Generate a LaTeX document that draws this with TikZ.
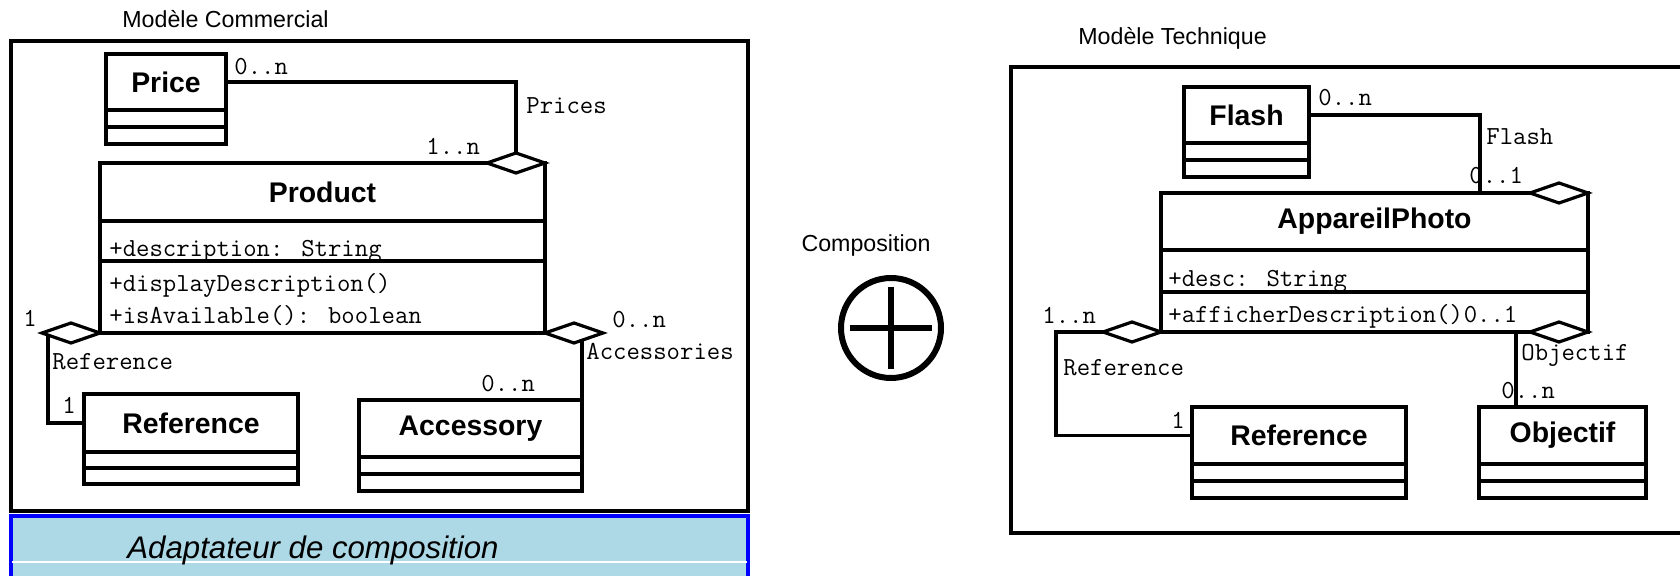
\documentclass[tikz,border=0pt]{standalone}
\usepackage{fontspec}
\setmainfont{Liberation Sans}
\usetikzlibrary{positioning,shapes.geometric}
\definecolor{Ink}{HTML}{000000}
\definecolor{AdaptFill}{HTML}{ADD8E6}
\definecolor{AdaptLine}{HTML}{0000FF}
\pgfdeclarelayer{links}
\pgfsetlayers{links,main}
\tikzset{
  classname/.style={
    draw=Ink, line width=1.6pt, inner sep=0pt, outer sep=0pt,
    font=\fontsize{14.2}{16}\selectfont\bfseries
  },
  classpart/.style={draw=Ink, line width=1.6pt, inner sep=0pt, outer sep=0pt},
  member/.style={anchor=base west, inner sep=0pt, font=\ttfamily\fontsize{13}{15}\selectfont},
  aggr/.style={
    diamond, draw=Ink, fill=white, line width=1.6pt, inner sep=0pt, outer sep=0pt,
    minimum width=29pt, minimum height=10pt
  },
  assoc/.style={draw=Ink, line width=1.6pt},
  package/.style={draw=Ink, line width=1.6pt},
  title/.style={anchor=base west, inner sep=0pt, font=\fontsize{11.6}{13}\selectfont}
}

\begin{document}
\begin{tikzpicture}[x=0.5pt,y=-0.5pt]
  \useasboundingbox (0,0) rectangle (1680,576);

  % commercial model
  \node[title] (commTitle) at (122,28) {Modèle Commercial};
  \draw[package] (11,41) rectangle (748,511);
  \fill[AdaptFill] (11,516) rectangle (748,590);
  \draw[AdaptLine, line width=1.8pt] (11,590) -- (11,516) -- (748,516) -- (748,590);
  \draw[white, line width=0.6pt] (12,562) -- (747,562);
  \node[title, font=\fontsize{15.6}{18}\selectfont\itshape] (adaptText) at (127,559) {Adaptateur de composition};

  \node[classname, minimum width=60pt, minimum height=28pt] (price) at (166,82) {Price};
  \node[classpart, minimum width=60pt, minimum height=8.5pt, below=0pt of price] (price-a) {};
  \node[classpart, minimum width=60pt, minimum height=8.5pt, below=0pt of price-a] (price-o) {};

  \node[classname, minimum width=222.5pt, minimum height=29pt] (prod) at (322.5,192) {Product};
  \node[classpart, minimum width=222.5pt, minimum height=20pt, below=0pt of prod] (prod-a) {};
  \node[classpart, minimum width=222.5pt, minimum height=36pt, below=0pt of prod-a] (prod-o) {};

  \node[classname, minimum width=107pt, minimum height=29pt] (refL) at (191,423) {Reference};
  \node[classpart, minimum width=107pt, minimum height=8pt, below=0pt of refL] (refL-a) {};
  \node[classpart, minimum width=107pt, minimum height=8pt, below=0pt of refL-a] (refL-o) {};

  \node[classname, minimum width=111.5pt, minimum height=28.5pt] (acc) at (470.5,428.5) {Accessory};
  \node[classpart, minimum width=111.5pt, minimum height=8.5pt, below=0pt of acc] (acc-a) {};
  \node[classpart, minimum width=111.5pt, minimum height=8.5pt, below=0pt of acc-a] (acc-o) {};

  \node[aggr, left=0pt of prod.north east] (dPrices) {};
  \node[aggr, left=0pt of prod-o.south west] (dRefL) {};
  \node[aggr, right=0pt of prod-o.south east] (dAcc) {};

  \begin{pgfonlayer}{links}
    \node[member] (descAttr) at (109,257) {+description: String};
    \node[member] (dispOp) at (109,292) {+displayDescription()};
    \node[member] (availOp) at (109,324) {+isAvailable(): boolean};
    \draw[assoc] (price.east) -| (dPrices.north);
    \draw[assoc] ([xshift=3pt]dRefL.west) |- (refL.west);
    \draw[assoc] (acc.north east) -- (acc.north east |- dAcc.center);
  \end{pgfonlayer}

  \node[member] (mPrice) at (234,75) {0..n};
  \node[member] (lPrices) at (526,114) {Prices};
  \node[member] (mProd) at (426,155) {1..n};
  \node[member] (mProdRef) at (23,327) {1};
  \node[member] (lRefL) at (52,370) {Reference};
  \node[member] (mRefL) at (62,414) {1};
  \node[member] (mProdAcc) at (612,328) {0..n};
  \node[member] (lAcc) at (586,360) {Accessories};
  \node[member] (mAcc) at (481,392) {0..n};

  % composition
  \node[title, anchor=base] (compTitle) at (866,252) {Composition};
  \node[circle, draw=Ink, line width=3pt, minimum size=50pt, inner sep=0pt] (oplus) at (891,328) {};
  \draw[line width=2.6pt] (oplus.center) ++(-41,0) -- ++(82,0);
  \draw[line width=2.6pt] (oplus.center) ++(0,-41) -- ++(0,82);

  % technical model
  \node[title] (techTitle) at (1078,45) {Modèle Technique};
  \draw[package] (1700,67) -- (1011,67) -- (1011,533) -- (1700,533);

  \node[classname, minimum width=62.5pt, minimum height=28pt] (flash) at (1246.5,115) {Flash};
  \node[classpart, minimum width=62.5pt, minimum height=8.5pt, below=0pt of flash] (flash-a) {};
  \node[classpart, minimum width=62.5pt, minimum height=8.5pt, below=0pt of flash-a] (flash-o) {};

  \node[classname, minimum width=213.5pt, minimum height=28.5pt] (ap) at (1374.5,221.5) {AppareilPhoto};
  \node[classpart, minimum width=213.5pt, minimum height=21pt, below=0pt of ap] (ap-a) {};
  \node[classpart, minimum width=213.5pt, minimum height=20pt, below=0pt of ap-a] (ap-o) {};

  \node[classname, minimum width=107pt, minimum height=28.5pt] (refR) at (1299,435.5) {Reference};
  \node[classpart, minimum width=107pt, minimum height=8.5pt, below=0pt of refR] (refR-a) {};
  \node[classpart, minimum width=107pt, minimum height=8.5pt, below=0pt of refR-a] (refR-o) {};

  \node[classname, minimum width=83.5pt, minimum height=28.5pt] (obj) at (1562.5,435.5) {Objectif};
  \node[classpart, minimum width=83.5pt, minimum height=8.5pt, below=0pt of obj] (obj-a) {};
  \node[classpart, minimum width=83.5pt, minimum height=8.5pt, below=0pt of obj-a] (obj-o) {};

  \node[aggr, left=0pt of ap.north east] (dFlash) {};
  \node[aggr, left=0pt of ap-o.south east] (dObj) {};
  \node[aggr, left=0pt of ap-o.south west] (dRefR) {};

  \coordinate (flashEnd) at (1480,193);
  \coordinate (objEnd) at (1516,407);

  \begin{pgfonlayer}{links}
    \node[member] (descAttrR) at (1168,287) {+desc: String};
    \node[member] (afficherOp) at (1168,323) {+afficherDescription()};
    \draw[assoc] (flash.east) -| (flashEnd);
    \draw[assoc] (objEnd) -- (objEnd |- ap-o.south);
    \draw[assoc] (dRefR.west) -- ++(-47,0) |- (refR.west);
  \end{pgfonlayer}

  \node[member] (mFlash) at (1318,106) {0..n};
  \node[member] (lFlash) at (1486,145) {Flash};
  \node[member] (mApFlash) at (1469,184) {0..1};
  \node[member] (mApRef) at (1042,324) {1..n};
  \node[member] (mApObj) at (afficherOp.base east) {0..1};
  \node[member] (lRefR) at (1063,376) {Reference};
  \node[member] (mRefR) at (1171,429) {1};
  \node[member] (lObj) at (1521,361) {Objectif};
  \node[member] (mObj) at (1501,399) {0..n};
\end{tikzpicture}
\end{document}
